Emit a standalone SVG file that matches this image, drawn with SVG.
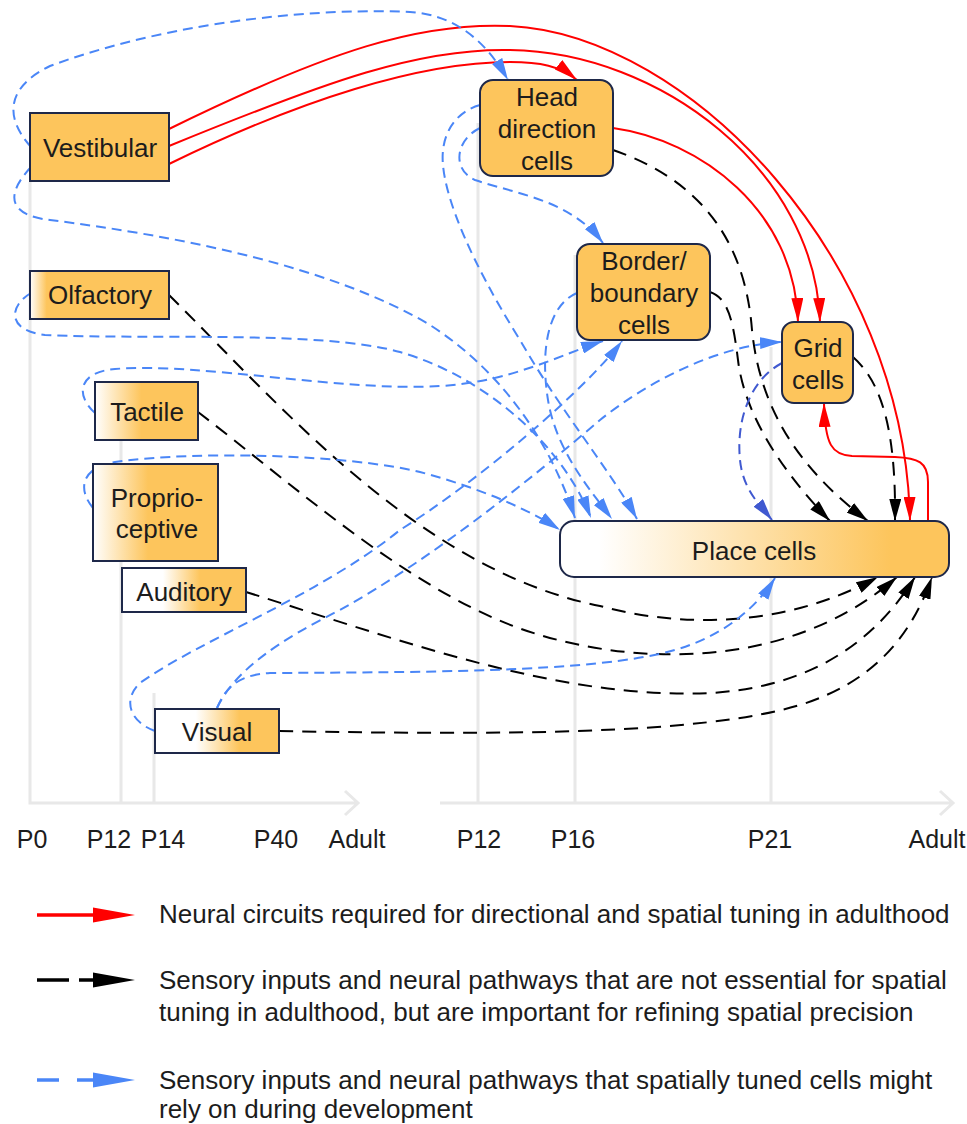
<svg xmlns="http://www.w3.org/2000/svg" width="967" height="1124" viewBox="0 0 967 1124">
<style>
.lbl{font-family:"Liberation Sans",Arial,Helvetica,sans-serif;font-size:26px;fill:#1c1c1c;text-anchor:middle}
.ax{font-family:"Liberation Sans",Arial,Helvetica,sans-serif;font-size:25px;fill:#1c1c1c;text-anchor:middle}
.leg{font-family:"Liberation Sans",Arial,Helvetica,sans-serif;font-size:26px;fill:#1c1c1c}
.box{stroke:#1e2849;stroke-width:2}
.grid{stroke:#e8e8e8;stroke-width:3;fill:none}
.red{fill:none;stroke:#ff0000;stroke-width:2}
.blk{fill:none;stroke:#000;stroke-width:2;stroke-dasharray:14 9}
.blu{fill:none;stroke:#4a86f7;stroke-width:2;stroke-dasharray:10 6}
.dbl{fill:none;stroke:#4059d0;stroke-width:2;stroke-dasharray:10 6}
</style>
<defs>
<linearGradient id="gOlf" x1="0" y1="0" x2="1" y2="0"><stop offset="0" stop-color="#fff"/><stop offset="0.12" stop-color="#fdc55c"/></linearGradient>
<linearGradient id="gTac" x1="0" y1="0" x2="1" y2="0"><stop offset="0" stop-color="#fff"/><stop offset="0.45" stop-color="#fdc55c"/></linearGradient>
<linearGradient id="gPro" x1="0" y1="0" x2="1" y2="0"><stop offset="0" stop-color="#fff"/><stop offset="0.44" stop-color="#fdc55c"/></linearGradient>
<linearGradient id="gAud" x1="0" y1="0" x2="1" y2="0"><stop offset="0.33" stop-color="#fff"/><stop offset="0.63" stop-color="#fdc55c"/></linearGradient>
<linearGradient id="gVis" x1="0" y1="0" x2="1" y2="0"><stop offset="0.33" stop-color="#fff"/><stop offset="0.68" stop-color="#fdc55c"/></linearGradient>
<linearGradient id="gPla" x1="0" y1="0" x2="1" y2="0"><stop offset="0.1" stop-color="#fff"/><stop offset="0.85" stop-color="#fdc55c"/></linearGradient>
<marker id="mr" markerUnits="userSpaceOnUse" markerWidth="24" markerHeight="12" viewBox="0 0 24 12" refX="24" refY="6" orient="auto"><path d="M0,0 L24,6 L0,12 z" fill="#ff0000"/></marker>
<marker id="mk" markerUnits="userSpaceOnUse" markerWidth="22" markerHeight="12" viewBox="0 0 22 12" refX="22" refY="6" orient="auto"><path d="M0,0 L22,6 L0,12 z" fill="#000"/></marker>
<marker id="mb" markerUnits="userSpaceOnUse" markerWidth="22" markerHeight="12" viewBox="0 0 22 12" refX="22" refY="6" orient="auto"><path d="M0,0 L22,6 L0,12 z" fill="#4a86f7"/></marker>
<marker id="md" markerUnits="userSpaceOnUse" markerWidth="22" markerHeight="12" viewBox="0 0 22 12" refX="22" refY="6" orient="auto"><path d="M0,0 L22,6 L0,12 z" fill="#4059d0"/></marker>
</defs>
<rect width="967" height="1124" fill="#fff"/>
<g id="axes">
<path class="grid" d="M30,182 V803 H358 M345,791 L358,803 L345,815"/>
<path class="grid" d="M121,440 V803 M154,693 V803"/>
<path class="grid" d="M440,803 H953 M940,791 L953,803 L940,815"/>
<path class="grid" d="M478,123 V803 M575,255 V803 M771,347 V803"/>
<text class="ax" x="32" y="848">P0</text>
<text class="ax" x="109" y="848">P12</text>
<text class="ax" x="163" y="848">P14</text>
<text class="ax" x="276" y="848">P40</text>
<text class="ax" x="357" y="848">Adult</text>
<text class="ax" x="479" y="848">P12</text>
<text class="ax" x="573" y="848">P16</text>
<text class="ax" x="770" y="848">P21</text>
<text class="ax" x="937" y="848">Adult</text>
</g>
<g id="connectors">
<path class="red" marker-end="url(#mr)" d="M169,129 C330,50 420,22 510,26 C690,35 905,260 910,521"/>
<path class="red" marker-end="url(#mr)" d="M169,146 C330,80 420,48 510,50 C660,52 815,170 820,322"/>
<path class="red" marker-end="url(#mr)" d="M169,164 C300,100 420,62 510,62 C540,62 560,66 577,80"/>
<path class="red" marker-end="url(#mr)" d="M613,128 C700,140 795,210 798,322"/>
<path class="red" marker-end="url(#mr)" d="M928,521 L928,482 C928,462 918,458 895,457 L852,456 C832,455 825,445 824,403"/>
<path class="blk" marker-end="url(#mk)" d="M613,150 C700,180 745,240 752,330 C760,410 800,470 868,521"/>
<path class="blk" marker-end="url(#mk)" d="M710,292 C728,298 733,320 738,360 C745,420 790,480 830,521"/>
<path class="blk" marker-end="url(#mk)" d="M853,357 C885,385 896,440 895,521"/>
<path class="blk" marker-end="url(#mk)" d="M169,295 C280,405 420,570 600,606 C690,630 790,625 878,577"/>
<path class="blk" marker-end="url(#mk)" d="M198,412 C300,490 420,600 540,635 C640,665 790,670 897,577"/>
<path class="blk" marker-end="url(#mk)" d="M246,592 C400,640 560,700 710,693 C800,688 870,650 915,577"/>
<path class="blk" marker-end="url(#mk)" d="M279,731 C500,735 700,735 800,705 C870,683 910,640 932,577"/>
<path class="blu" marker-end="url(#mb)" d="M31,147 C5,118 5,88 50,66 C180,18 330,8 410,12 C455,15 485,40 508,80"/>
<path class="blu" marker-end="url(#mb)" d="M31,167 C5,195 8,215 50,220 C170,235 330,265 430,325 C500,370 550,440 575,518"/>
<path class="blu" marker-end="url(#mb)" d="M31,293 C10,305 5,330 45,335 C150,340 320,330 400,352 C480,375 560,440 591,518"/>
<path class="blu" marker-end="url(#mb)" d="M95,413 C75,395 78,372 115,369 C200,362 340,392 440,386 C510,382 560,355 603,341"/>
<path class="blu" marker-end="url(#mb)" d="M93,508 C78,490 80,468 115,462 C200,450 350,455 420,472 C480,488 530,510 560,530"/>
<path class="blu" marker-end="url(#mb)" d="M480,128 C455,140 452,170 475,180 C520,195 570,200 603,243"/>
<path class="blu" marker-end="url(#mb)" d="M480,105 C455,112 440,135 443,165 C446,200 470,260 520,340 C560,410 610,470 637,519"/>
<path class="blu" marker-end="url(#mb)" d="M577,293 C548,305 540,350 548,400 C556,450 590,490 612,519"/>
<path class="dbl" marker-end="url(#md)" d="M782,363 C750,380 736,420 740,460 C743,490 760,505 772,520"/>
<path class="blu" marker-end="url(#mb)" d="M155,731 C130,722 122,700 140,683 C200,640 320,595 400,530 C480,480 585,390 622,341"/>
<path class="blu" marker-end="url(#mb)" d="M217,708 C235,670 280,640 340,610 C430,560 530,480 600,420 C650,380 720,345 782,342"/>
<path class="blu" marker-end="url(#mb)" d="M217,708 C225,690 235,675 270,673 C450,672 620,672 690,645 C730,630 758,605 775,578"/>
</g>
<g id="vestibular"><rect class="box" x="30" y="113" width="139" height="68" fill="#fdc55c"/><text class="lbl" x="100" y="157">Vestibular</text></g>
<g id="olfactory"><rect class="box" x="30" y="271" width="139" height="48" fill="url(#gOlf)"/><text class="lbl" x="100" y="304">Olfactory</text></g>
<g id="tactile"><rect class="box" x="95" y="382" width="103" height="58" fill="url(#gTac)"/><text class="lbl" x="147" y="421">Tactile</text></g>
<g id="proprioceptive"><rect class="box" x="93" y="464" width="125" height="97" fill="url(#gPro)"/><text class="lbl" x="157" y="507">Proprio-</text><text class="lbl" x="157" y="538">ceptive</text></g>
<g id="auditory"><rect class="box" x="122" y="568" width="124" height="44" fill="url(#gAud)"/><text class="lbl" x="184" y="601">Auditory</text></g>
<g id="visual"><rect class="box" x="155" y="709" width="124" height="44" fill="url(#gVis)"/><text class="lbl" x="217" y="741">Visual</text></g>
<g id="head-direction"><rect class="box" x="480" y="80" width="133" height="96" rx="13" fill="#fdc55c"/><text class="lbl" x="547" y="106">Head</text><text class="lbl" x="547" y="138">direction</text><text class="lbl" x="547" y="170">cells</text></g>
<g id="border"><rect class="box" x="577" y="244" width="133" height="96" rx="13" fill="#fdc55c"/><text class="lbl" x="644" y="270">Border/</text><text class="lbl" x="644" y="302">boundary</text><text class="lbl" x="644" y="334">cells</text></g>
<g id="grid-cells"><rect class="box" x="782" y="322" width="71" height="81" rx="12" fill="#fdc55c"/><text class="lbl" x="818" y="357">Grid</text><text class="lbl" x="818" y="389">cells</text></g>
<g id="place-cells"><rect class="box" x="560" y="521" width="389" height="56" rx="14" fill="url(#gPla)"/><text class="lbl" x="754" y="560">Place cells</text></g>
<g id="legend">
<line x1="37" y1="915" x2="96" y2="915" stroke="#ff0000" stroke-width="3.5"/><polygon points="93,907.5 135,915 93,922.5" fill="#ff0000"/>
<text class="leg" x="159" y="923">Neural circuits required for directional and spatial tuning in adulthood</text>
<line x1="37" y1="980" x2="69" y2="980" stroke="#000" stroke-width="3.5"/><line x1="79" y1="980" x2="96" y2="980" stroke="#000" stroke-width="3.5"/><polygon points="93,972.5 135,980 93,987.5" fill="#000"/>
<text class="leg" x="159" y="989">Sensory inputs and neural pathways that are not essential for spatial</text>
<text class="leg" x="159" y="1021">tuning in adulthood, but are important for refining spatial precision</text>
<line x1="37" y1="1080" x2="59" y2="1080" stroke="#4a86f7" stroke-width="3.5"/><line x1="77" y1="1080" x2="96" y2="1080" stroke="#4a86f7" stroke-width="3.5"/><polygon points="93,1072.5 135,1080 93,1087.5" fill="#4a86f7"/>
<text class="leg" x="159" y="1089">Sensory inputs and neural pathways that spatially tuned cells might</text>
<text class="leg" x="159" y="1118">rely on during development</text>
</g>
</svg>
